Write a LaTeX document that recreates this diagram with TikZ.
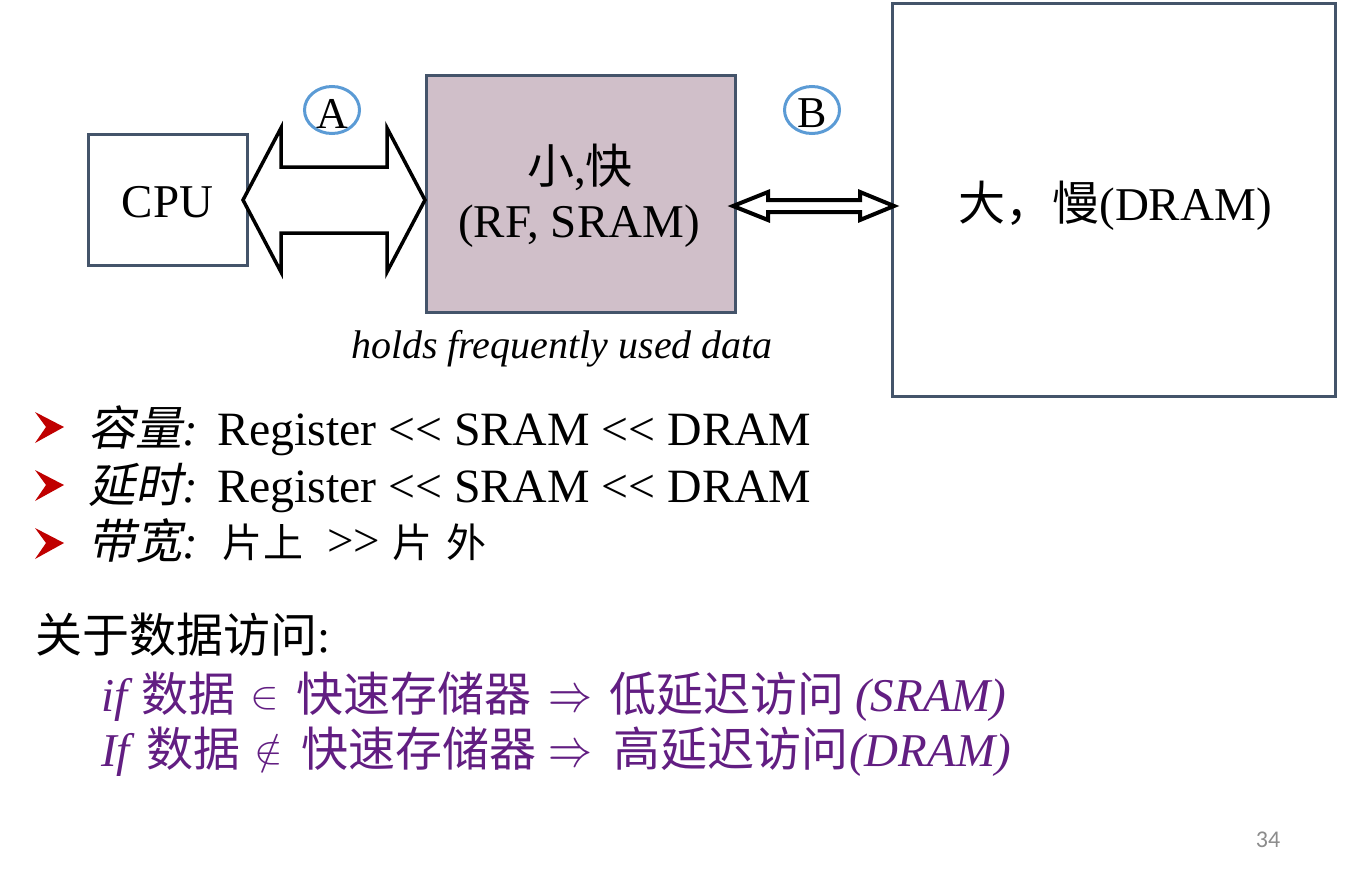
\documentclass[tikz,border=0pt]{standalone}
\usepackage{fontspec}
\usepackage{graphicx}
\setmainfont{Liberation Serif}
\newfontfamily\cjk{Noto Sans CJK SC}
\newfontfamily\cjkit[FakeSlant=0.2]{Noto Sans CJK SC}
\newfontfamily\pnfont{Carlito}
\usetikzlibrary{shapes.geometric}
\definecolor{slate}{HTML}{44546A}
\definecolor{memfill}{HTML}{D0BFC9}
\definecolor{circblue}{HTML}{5B9BD5}
\definecolor{bulletred}{HTML}{C00000}
\definecolor{purp}{RGB}{98,30,130}
\definecolor{pngray}{HTML}{8C8C8C}
\tikzset{
  box/.style={draw=slate, line width=3pt, inner sep=0pt, rectangle},
  big/.style={font=\fontsize{47}{56}\selectfont, inner sep=0pt},
  seg/.style={font=\fontsize{47}{56}\selectfont, inner sep=0pt, anchor=base west},
  pseg/.style={seg, text=purp},
  smallcjk/.style={font=\cjk\fontsize{40}{46}\selectfont, inner sep=0pt, anchor=base west},
  lbl/.style={ellipse, draw=circblue, line width=3pt, minimum width=55pt, minimum height=47pt, inner sep=0pt},
  lbltxt/.style={font=\fontsize{44}{52}\selectfont, inner sep=0pt, anchor=base},
  fatarrow/.style={draw=black, fill=white, line width=3.5pt, line join=miter},
  thinarrow/.style={draw=black, fill=white, line width=4pt, line join=miter},
  bullet/.style={fill=bulletred, draw=none},
  sym/.style={inner sep=0pt, anchor=base west, text=purp},
}
\begin{document}
\begin{tikzpicture}[x=1pt,y=-1pt]
\useasboundingbox[fill=white] (0,0) rectangle (1372,870);

% boxes
\node[box, minimum width=158.5pt, minimum height=130.5pt] (cpu) at (167.75,199.75) {};
\node[box, fill=memfill, minimum width=309pt, minimum height=237pt] (sram) at (580.5,194) {};
\node[box, minimum width=443pt, minimum height=393pt] (dram) at (1114,200) {};

% box texts
\node[big, anchor=base] (cputxt) at (167.5,217) {CPU};
\node[big, anchor=base] (sramtxt1) at (580,183) {{\cjk 小},{\cjk 快}};
\node[big, anchor=base] (sramtxt2) at (579,237) {(RF, SRAM)};
\node[big, anchor=base] (dramtxt) at (1115,220) {{\cjk 大，慢}(DRAM)};
\node[font=\fontsize{40}{48}\selectfont\itshape, inner sep=0pt, anchor=base] (holds) at (562,358) {holds frequently used data};

% arrow A (CPU <-> SRAM)
\coordinate (aL) at (243,200);
\coordinate (aR) at (425,200);
\path[fatarrow] (aL) -- (281,128) -- (281,167) -- (387,167) -- (387,128) -- (aR)
  -- (387,272) -- (387,233) -- (281,233) -- (281,272) -- cycle;

% arrow B (SRAM <-> DRAM)
\coordinate (bL) at (733,206);
\coordinate (bR) at (894,206);
\path[thinarrow] (bL) -- (768,192) -- (768,200) -- (860,200) -- (860,192) -- (bR)
  -- (860,220) -- (860,212) -- (768,212) -- (768,220) -- cycle;

% labels A, B
\node[lbl] (la) at (332,110) {};
\node[lbltxt] (latxt) at (332,128) {A};
\node[lbl] (lb) at (812,110) {};
\node[lbltxt] (lbtxt) at (812,127) {B};

% bullets
\foreach \yy in {0,58,116}{
  \path[bullet] (35,412+\yy) -- (64,427+\yy) -- (35,443+\yy) -- (46,427+\yy) -- cycle;
}
\node[seg] (l1a) at (88,445) {{\cjkit 容量}\textit{:}};
\node[seg, font=\fontsize{47.8}{56}\selectfont] (l1b) at (217,445) {Register <{}< SRAM <{}< DRAM};
\node[seg] (l2a) at (88,502) {{\cjkit 延时}\textit{:}};
\node[seg, font=\fontsize{47.8}{56}\selectfont] (l2b) at (217,502) {Register <{}< SRAM <{}< DRAM};
\node[seg] (l3a) at (88,558) {{\cjkit 带宽}\textit{:}};
\node[smallcjk] (l3b) at (222,557) {片};
\node[smallcjk] (l3c) at (263,557) {上};
\node[seg] (l3d) at (327,556) {>{}>};
\node[smallcjk] (l3e) at (392,557) {片};
\node[smallcjk] (l3f) at (446,557) {外};

% access text
\node[seg] (acc) at (35,652) {{\cjk 关于数据访问}:};

% line 1
\node[pseg] (p1a) at (101,711) {\textit{if}};
\node[pseg, font=\cjk\fontsize{47}{56}\selectfont] (p1b) at (141,711) {数据};
\node[sym] (p1c) at (250,708) {\scalebox{4.3}[3.9]{$\in$}};
\node[pseg, font=\cjk\fontsize{47}{56}\selectfont] (p1d) at (296,711) {快速存储器};
\node[sym] (p1e) at (548,711) {\scalebox{4.4}[5.4]{$\Rightarrow$}};
\node[pseg, font=\cjk\fontsize{47}{56}\selectfont] (p1f) at (609,711) {低延迟访问};
\node[pseg] (p1g) at (855,711) {\textit{(SRAM)}};

% line 2
\node[pseg] (p2a) at (101,766) {\textit{If}};
\node[pseg, font=\cjk\fontsize{47}{56}\selectfont] (p2b) at (146,766) {数据};
\node[sym] (p2c) at (254,763) {\scalebox{4.3}[3.9]{$\notin$}};
\node[pseg, font=\cjk\fontsize{47}{56}\selectfont] (p2d) at (301,766) {快速存储器};
\node[sym] (p2e) at (548,766) {\scalebox{4.4}[5.4]{$\Rightarrow$}};
\node[pseg, font=\cjk\fontsize{47}{56}\selectfont] (p2f) at (613,766) {高延迟访问};
\node[pseg] (p2g) at (849,766) {\textit{(DRAM)}};

% page number
\node[font=\pnfont\fontsize{24}{28}\selectfont, text=pngray, inner sep=0pt] (pn) at (1268,840) {34};
\end{tikzpicture}
\end{document}
